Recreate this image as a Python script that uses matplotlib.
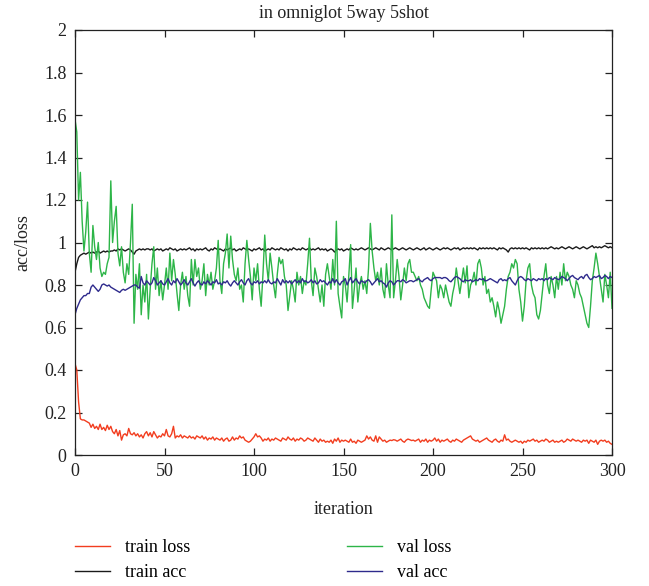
import numpy as np
import matplotlib
matplotlib.use("Agg")
import matplotlib.pyplot as plt

plt.rcParams['font.family'] = ['Liberation Serif', 'DejaVu Serif']

title = "in omniglot 5way 5shot"
xlabel = "iteration"
ylabel = "acc/loss"
labels = ["train loss", "train acc", "val loss", "val acc"]

train_loss = [
    0.43, 0.40, 0.25, 0.17, 0.165, 0.165, 0.16, 0.155, 0.15, 0.13, 0.145,
    0.125, 0.135, 0.12, 0.145, 0.12, 0.13, 0.115, 0.14, 0.12, 0.135,
    0.11, 0.10, 0.12, 0.09, 0.115, 0.07, 0.095, 0.10, 0.09, 0.125,
    0.10, 0.095, 0.105, 0.09, 0.10, 0.085, 0.095, 0.08, 0.10, 0.11,
    0.09, 0.105, 0.085, 0.11, 0.095, 0.08, 0.09, 0.085, 0.10, 0.09,
    0.12, 0.09, 0.085, 0.10, 0.135, 0.08, 0.09, 0.085, 0.095, 0.08,
    0.09, 0.085, 0.08, 0.09, 0.08, 0.085, 0.075, 0.09, 0.085, 0.08,
    0.09, 0.075, 0.085, 0.07, 0.08, 0.075, 0.085, 0.07, 0.08, 0.075,
    0.07, 0.08, 0.065, 0.075, 0.08, 0.065, 0.07, 0.085, 0.07, 0.08,
    0.075, 0.09, 0.08, 0.085, 0.07, 0.065, 0.06, 0.065, 0.075, 0.085,
    0.10, 0.085, 0.09, 0.08, 0.065, 0.075, 0.07, 0.08, 0.065, 0.075,
    0.07, 0.08, 0.075, 0.07, 0.065, 0.08, 0.075, 0.07, 0.085, 0.075,
    0.07, 0.08, 0.065, 0.075, 0.07, 0.08, 0.075, 0.065, 0.07, 0.08,
    0.075, 0.07, 0.065, 0.08, 0.07, 0.06, 0.075, 0.065, 0.07, 0.06,
    0.065, 0.06, 0.07, 0.055, 0.075, 0.065, 0.08, 0.06, 0.07, 0.065,
    0.07, 0.065, 0.06, 0.075, 0.06, 0.065, 0.055, 0.07, 0.065, 0.06,
    0.065, 0.07, 0.09, 0.075, 0.085, 0.07, 0.065, 0.09, 0.06, 0.085,
    0.075, 0.065, 0.07, 0.06, 0.065, 0.07, 0.068, 0.072, 0.07, 0.065,
    0.07, 0.075, 0.065, 0.06, 0.07, 0.075, 0.072, 0.068, 0.07, 0.065,
    0.07, 0.075, 0.06, 0.07, 0.065, 0.075, 0.06, 0.07, 0.065, 0.07,
    0.08, 0.065, 0.075, 0.06, 0.07, 0.065, 0.07, 0.075, 0.065, 0.06,
    0.07, 0.065, 0.075, 0.07, 0.065, 0.06, 0.07, 0.075, 0.08, 0.085,
    0.09, 0.075, 0.07, 0.065, 0.07, 0.06, 0.065, 0.07, 0.075, 0.08,
    0.07, 0.065, 0.06, 0.07, 0.075, 0.065, 0.06, 0.07, 0.065, 0.095,
    0.07, 0.075, 0.065, 0.06, 0.065, 0.07, 0.065, 0.06, 0.065, 0.055,
    0.065, 0.06, 0.07, 0.065, 0.07, 0.075, 0.065, 0.07, 0.06, 0.065,
    0.07, 0.065, 0.075, 0.07, 0.06, 0.065, 0.07, 0.06, 0.065, 0.06,
    0.065, 0.07, 0.06, 0.065, 0.075, 0.07, 0.065, 0.075, 0.07, 0.065,
    0.07, 0.065, 0.06, 0.07, 0.065, 0.07, 0.055, 0.07, 0.065, 0.06,
    0.07, 0.05, 0.065, 0.07, 0.065, 0.07, 0.06, 0.065, 0.055, 0.05,
]

train_acc = [
    0.86, 0.90, 0.93, 0.94, 0.945, 0.95, 0.945, 0.95, 0.955, 0.95, 0.955,
    0.95, 0.955, 0.96, 0.95, 0.955, 0.96, 0.955, 0.96, 0.955, 0.96,
    0.96, 0.965, 0.96, 0.97, 0.965, 0.97, 0.965, 0.96, 0.965, 0.97,
    0.965, 0.955, 0.945, 0.96, 0.965, 0.97, 0.965, 0.97, 0.965, 0.97,
    0.97, 0.965, 0.97, 0.96, 0.965, 0.97, 0.965, 0.97, 0.96, 0.965,
    0.97, 0.965, 0.975, 0.97, 0.965, 0.97, 0.96, 0.965, 0.97, 0.965,
    0.97, 0.965, 0.97, 0.975, 0.965, 0.97, 0.96, 0.97, 0.965, 0.97,
    0.965, 0.97, 0.975, 0.965, 0.96, 0.97, 0.965, 0.975, 0.97, 0.965,
    0.97, 0.965, 0.96, 0.97, 0.965, 0.97, 0.975, 0.965, 0.97, 0.96,
    0.965, 0.97, 0.965, 0.975, 0.97, 0.965, 0.97, 0.965, 0.96, 0.97,
    0.965, 0.97, 0.975, 0.965, 0.97, 0.96, 0.965, 0.97, 0.965, 0.975,
    0.97, 0.965, 0.97, 0.965, 0.975, 0.97, 0.965, 0.97, 0.96, 0.97,
    0.965, 0.975, 0.97, 0.965, 0.97, 0.965, 0.975, 0.97, 0.965, 0.97,
    0.975, 0.965, 0.97, 0.965, 0.97, 0.975, 0.965, 0.97, 0.965, 0.97,
    0.96, 0.965, 0.97, 0.965, 0.955, 0.965, 0.97, 0.965, 0.97, 0.96,
    0.965, 0.97, 0.965, 0.975, 0.97, 0.965, 0.97, 0.965, 0.97, 0.975,
    0.97, 0.965, 0.97, 0.975, 0.97, 0.965, 0.97, 0.975, 0.97, 0.965,
    0.975, 0.97, 0.965, 0.97, 0.975, 0.97, 0.965, 0.97, 0.975, 0.97,
    0.965, 0.97, 0.975, 0.97, 0.965, 0.97, 0.975, 0.97, 0.965, 0.97,
    0.975, 0.97, 0.965, 0.97, 0.975, 0.965, 0.97, 0.975, 0.97, 0.965,
    0.97, 0.975, 0.97, 0.965, 0.97, 0.975, 0.97, 0.975, 0.97, 0.965,
    0.97, 0.975, 0.97, 0.975, 0.965, 0.97, 0.975, 0.97, 0.975, 0.97,
    0.975, 0.97, 0.975, 0.97, 0.965, 0.975, 0.97, 0.975, 0.97, 0.975,
    0.97, 0.975, 0.97, 0.975, 0.97, 0.965, 0.975, 0.97, 0.975, 0.97,
    0.965, 0.955, 0.97, 0.975, 0.97, 0.975, 0.97, 0.975, 0.97, 0.975,
    0.97, 0.975, 0.97, 0.965, 0.975, 0.97, 0.975, 0.97, 0.975, 0.97,
    0.975, 0.97, 0.975, 0.97, 0.975, 0.98, 0.975, 0.97, 0.975, 0.97,
    0.975, 0.98, 0.975, 0.97, 0.975, 0.98, 0.975, 0.97, 0.975, 0.98,
    0.975, 0.97, 0.975, 0.98, 0.975, 0.97, 0.975, 0.98, 0.985, 0.975,
    0.98, 0.975, 0.98, 0.975, 0.98, 0.985, 0.98, 0.975, 0.98, 0.975,
]

val_loss = [
    1.58, 1.52, 1.20, 1.33, 1.10, 0.96, 1.05, 1.19, 0.95, 0.86, 1.08,
    0.98, 0.92, 1.00, 0.88, 0.84, 0.86, 0.85, 0.90, 0.93, 1.29,
    1.00, 1.10, 1.17, 0.95, 0.89, 0.98, 0.86, 0.81, 0.90, 0.85,
    1.00, 1.18, 0.62, 0.85, 0.78, 0.90, 0.66, 0.80, 0.72, 0.85,
    0.64, 0.78, 0.90, 0.98, 0.78, 0.88, 0.75, 0.82, 0.73, 0.80,
    0.88, 0.78, 0.95, 0.82, 0.92, 0.85, 0.76, 0.68, 0.80, 0.86,
    0.78, 0.84, 0.75, 0.70, 0.92, 0.80, 0.92, 0.84, 0.88, 0.78,
    0.82, 0.90, 0.75, 0.85, 0.80, 0.86, 0.78, 0.82, 0.88, 1.01,
    0.82, 0.76, 0.90, 0.95, 1.04, 0.88, 1.03, 0.92, 0.85, 0.82,
    0.88, 0.78, 0.80, 0.72, 0.90, 1.01, 0.92, 0.84, 0.73, 0.88,
    0.82, 0.90, 0.78, 0.70, 0.85, 1.035, 0.90, 0.82, 0.95, 0.88,
    0.80, 0.74, 0.85, 0.93, 0.90, 0.92, 0.84, 0.80, 0.68, 0.75,
    0.82, 0.78, 0.72, 0.86, 0.80, 0.84, 0.76, 0.82, 0.80, 0.90,
    1.02, 0.82, 0.75, 0.88, 0.84, 0.78, 0.72, 0.80, 0.70, 0.85,
    0.90, 0.84, 0.78, 0.92, 0.80, 1.10, 0.76, 0.70, 0.645, 0.84,
    0.80, 0.72, 0.85, 0.99, 0.69, 0.78, 0.88, 0.72, 0.80, 0.84,
    0.78, 0.82, 0.76, 0.88, 1.09, 0.96, 0.88, 0.82, 0.86, 0.80,
    0.88, 0.78, 0.74, 0.90, 0.80, 0.74, 1.13, 0.74, 0.82, 0.92,
    0.84, 0.73, 0.80, 0.88, 0.82, 0.90, 0.92, 0.86, 0.86, 0.84,
    0.82, 0.84, 0.80, 0.78, 0.74, 0.72, 0.70, 0.69, 0.78, 0.86,
    0.84, 0.82, 0.74, 0.80, 0.78, 0.74, 0.80, 0.76, 0.72, 0.70,
    0.76, 0.80, 0.88, 0.82, 0.76, 0.82, 0.88, 0.81, 0.89, 0.74,
    0.80, 0.82, 0.86, 0.80, 0.90, 0.92, 0.88, 0.80, 0.84, 0.76,
    0.78, 0.72, 0.74, 0.70, 0.65, 0.72, 0.68, 0.62, 0.66, 0.70,
    0.78, 0.84, 0.86, 0.90, 0.88, 0.92, 0.90, 0.78, 0.72, 0.63,
    0.70, 0.82, 0.88, 0.90, 0.80, 0.76, 0.74, 0.66, 0.64, 0.68,
    0.76, 0.84, 0.90, 0.80, 0.76, 0.84, 0.80, 0.74, 0.84, 0.78,
    0.86, 0.80, 0.90, 0.82, 0.86, 0.84, 0.80, 0.78, 0.74, 0.82,
    0.80, 0.76, 0.74, 0.70, 0.66, 0.62, 0.60, 0.70, 0.82, 0.88,
    0.95, 0.90, 0.84, 0.78, 0.72, 0.85, 0.80, 0.74, 0.86, 0.69,
]

val_acc = [
    0.66, 0.69, 0.71, 0.73, 0.74, 0.75, 0.75, 0.76, 0.76, 0.79, 0.80,
    0.79, 0.78, 0.77, 0.78, 0.80, 0.805, 0.80, 0.795, 0.80, 0.79,
    0.785, 0.78, 0.775, 0.77, 0.765, 0.775, 0.78, 0.775, 0.78, 0.785,
    0.79, 0.795, 0.80, 0.80, 0.79, 0.785, 0.84, 0.81, 0.80, 0.82,
    0.81, 0.80, 0.81, 0.835, 0.82, 0.80, 0.81, 0.82, 0.805, 0.80,
    0.815, 0.83, 0.81, 0.80, 0.82, 0.81, 0.83, 0.815, 0.80, 0.81,
    0.825, 0.81, 0.80, 0.815, 0.83, 0.81, 0.795, 0.81, 0.82, 0.805,
    0.80, 0.815, 0.805, 0.82, 0.81, 0.80, 0.815, 0.81, 0.825, 0.805,
    0.81, 0.80, 0.815, 0.81, 0.82, 0.805, 0.795, 0.81, 0.82, 0.81,
    0.80, 0.815, 0.825, 0.81, 0.80, 0.82, 0.83, 0.81, 0.80, 0.815,
    0.81, 0.82, 0.805, 0.815, 0.81, 0.82, 0.81, 0.825, 0.81, 0.805,
    0.815, 0.81, 0.83, 0.815, 0.80, 0.825, 0.81, 0.82, 0.81, 0.82,
    0.805, 0.815, 0.825, 0.81, 0.82, 0.81, 0.83, 0.815, 0.82, 0.81,
    0.815, 0.825, 0.81, 0.82, 0.805, 0.81, 0.825, 0.815, 0.82, 0.81,
    0.80, 0.815, 0.81, 0.83, 0.81, 0.825, 0.81, 0.80, 0.815, 0.82,
    0.83, 0.80, 0.82, 0.835, 0.81, 0.82, 0.83, 0.815, 0.805, 0.82,
    0.815, 0.81, 0.82, 0.825, 0.815, 0.80, 0.81, 0.82, 0.83, 0.815,
    0.82, 0.81, 0.805, 0.79, 0.81, 0.82, 0.815, 0.80, 0.81, 0.82,
    0.82, 0.815, 0.825, 0.82, 0.81, 0.815, 0.82, 0.82, 0.815, 0.82,
    0.825, 0.83, 0.82, 0.815, 0.825, 0.83, 0.835, 0.825, 0.82, 0.83,
    0.835, 0.835, 0.835, 0.835, 0.83, 0.835, 0.835, 0.83, 0.82, 0.815,
    0.825, 0.835, 0.84, 0.835, 0.83, 0.82, 0.815, 0.825, 0.82, 0.82,
    0.825, 0.815, 0.82, 0.825, 0.82, 0.83, 0.825, 0.83, 0.82, 0.82,
    0.825, 0.83, 0.825, 0.82, 0.815, 0.81, 0.825, 0.83, 0.82, 0.825,
    0.82, 0.83, 0.835, 0.82, 0.81, 0.80, 0.82, 0.835, 0.84, 0.835,
    0.825, 0.82, 0.83, 0.825, 0.82, 0.83, 0.825, 0.82, 0.83, 0.825,
    0.83, 0.82, 0.83, 0.825, 0.835, 0.83, 0.825, 0.835, 0.83, 0.825,
    0.83, 0.84, 0.835, 0.83, 0.82, 0.83, 0.84, 0.845, 0.835, 0.83,
    0.825, 0.835, 0.84, 0.83, 0.845, 0.85, 0.835, 0.825, 0.83, 0.84,
    0.835, 0.84, 0.845, 0.83, 0.835, 0.845, 0.84, 0.83, 0.84, 0.835,
]

colors = ["#f23d1f", "#1a1a1a", "#2db548", "#2e2a8c"]
series = [train_loss, train_acc, val_loss, val_acc]

fig = plt.figure(figsize=(6.49, 5.86), dpi=100)
ax = fig.add_axes([75/649, 1-455/586, (612-75)/649, (455-30)/586])

handles = []
for s, c, lab in zip(series, colors, labels):
    x = np.arange(len(s))
    h, = ax.plot(x, s, color=c, lw=1.0, label=lab)
    handles.append(h)

ax.set_xlim(0, 300)
ax.set_ylim(0, 2)
ax.set_xticks([0, 50, 100, 150, 200, 250, 300])
ax.set_yticks([0, 0.2, 0.4, 0.6, 0.8, 1, 1.2, 1.4, 1.6, 1.8, 2])
ax.set_yticklabels(["0", "0.2", "0.4", "0.6", "0.8", "1", "1.2", "1.4", "1.6", "1.8", "2"])
ax.tick_params(direction='in', top=True, right=True, length=5, width=0.9,
               labelsize=13, colors='#222222', pad=6)
for sp in ax.spines.values():
    sp.set_linewidth(0.9)
    sp.set_color('#222222')
ax.set_title(title, fontsize=13, pad=9, color='#222222')
ax.set_xlabel(xlabel, fontsize=13, labelpad=15, color='#222222')
ax.set_ylabel(ylabel, fontsize=13, labelpad=9, color='#222222')

fig.legend(handles, labels, ncol=2, loc='upper left',
           bbox_to_anchor=(75/649, 1-539/586), frameon=False,
           fontsize=13, handlelength=1.95, handletextpad=0.8,
           columnspacing=8.7, borderpad=0, borderaxespad=0, labelspacing=0.45)

fig.savefig("out.png", dpi=100)
